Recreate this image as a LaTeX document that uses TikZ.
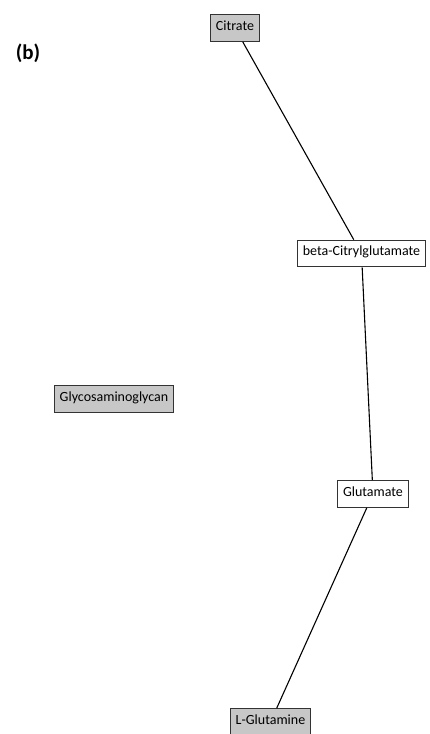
\documentclass[tikz,border=0pt]{standalone}
\usepackage{fontspec}
\setmainfont{Carlito}
\begin{document}
\begin{tikzpicture}[x=1pt,y=-1pt,
  metab/.style={draw=black!80, line width=1.2pt, rectangle, font=\fontsize{14}{16}\selectfont,
    inner xsep=5.5pt, inner ysep=0pt, minimum height=26.5pt, text depth=0.25em, text height=0.72em},
  src/.style={metab, fill=black!22},
  mid/.style={metab, fill=white},
  link/.style={draw=black, line width=1.1pt}]
  \useasboundingbox (0,0) rectangle (429,734);
  \node[font=\bfseries\fontsize{21}{24}\selectfont] (lab) at (28,53) {(b)};
  \node[src] (cit) at (235,28) {Citrate};
  \node[mid] (bcg) at (361.5,253.5) {beta-Citrylglutamate};
  \node[src] (gag) at (114,399) {Glycosaminoglycan};
  \node[mid] (glu) at (373,494) {Glutamate};
  \node[src] (gln) at (270.5,722) {L-Glutamine};
  \draw[link] (cit) -- (bcg);
  \draw[link] (bcg) -- (glu);
  \draw[link] (glu) -- (gln);
\end{tikzpicture}
\end{document}
